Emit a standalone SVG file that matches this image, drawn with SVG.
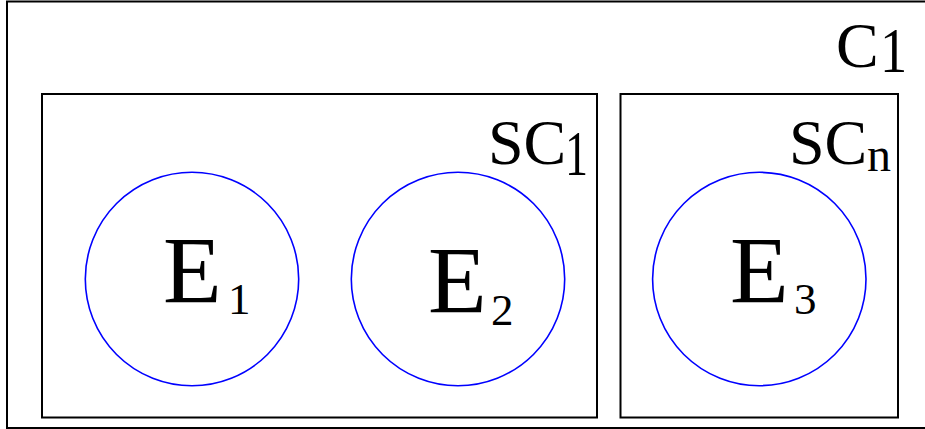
<svg xmlns="http://www.w3.org/2000/svg" width="925" height="429" viewBox="0 0 925 429">
<style>
.box{fill:none;stroke:#000;stroke-width:2}
.ent{fill:none;stroke:#0000ff;stroke-width:1.6}
text{font-family:"Liberation Serif","Times New Roman",serif;fill:#000}
.big{font-size:96px}
.sub{font-size:45px}
.lab{font-size:64px}
</style>
<rect width="925" height="429" fill="#fff"/>
<g id="C1">
<rect class="box" x="7" y="1.5" width="930" height="426.5" stroke-width="1.6"/>
<text class="lab" x="836" y="67">C</text>
<text class="lab" transform="translate(880,72) scale(0.85,1)" font-size="58">1</text>
</g>
<g id="SC1">
<rect class="box" x="42" y="94" width="555" height="323.5"/>
<text class="lab" x="488" y="164" font-size="63">SC</text>
<text class="lab" transform="translate(565,175) scale(0.72,1)" font-size="66">1</text>
</g>
<g id="SCn">
<rect class="box" x="620.5" y="94" width="277.5" height="323.5"/>
<text class="lab" x="789" y="164">SC<tspan x="867" y="171" font-size="48">n</tspan></text>
</g>
<g id="E1">
<circle class="ent" cx="192" cy="279" r="106.7"/>
<text class="big" x="163" y="303">E<tspan class="sub" x="228" y="314">1</tspan></text>
</g>
<g id="E2">
<circle class="ent" cx="458" cy="279" r="106.7"/>
<text class="big" x="428" y="312.7">E<tspan class="sub" x="491" y="325">2</tspan></text>
</g>
<g id="E3">
<circle class="ent" cx="759.3" cy="279" r="106.7"/>
<text class="big" x="730" y="303">E<tspan class="sub" x="794" y="314">3</tspan></text>
</g>
<g id="connectors"/>
</svg>
